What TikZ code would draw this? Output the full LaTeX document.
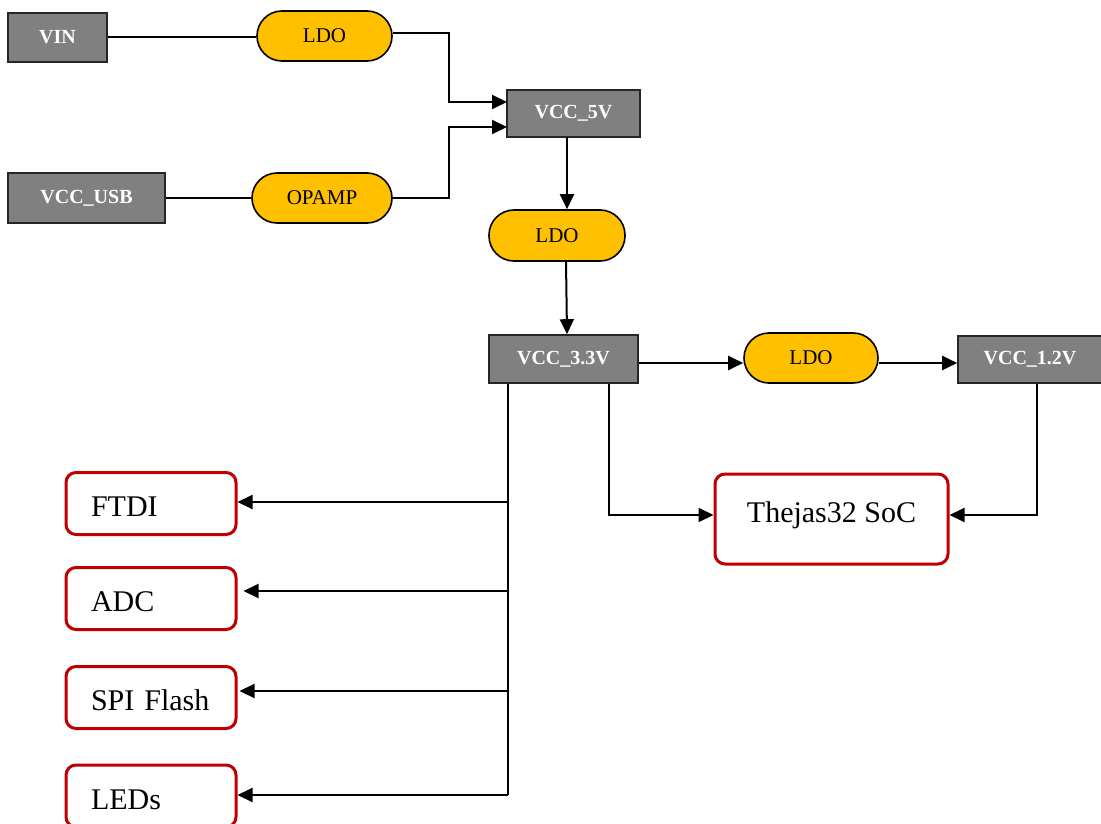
\documentclass[tikz,border=0pt]{standalone}
\usepackage{fontspec}
\setmainfont{Liberation Serif}
\usetikzlibrary{arrows.meta}
\definecolor{boxgray}{HTML}{808080}
\definecolor{boxedge}{HTML}{262626}
\definecolor{pillyellow}{HTML}{FFC000}
\definecolor{socred}{HTML}{C00000}
\tikzset{
  railbox/.style={draw=boxedge, line width=1.6pt, fill=boxgray, text=white,
    font=\fontsize{20}{24}\selectfont\bfseries, inner sep=0pt},
  regpill/.style={draw=black, line width=1.6pt, fill=pillyellow,
    rounded corners=25pt, font=\fontsize{21}{25}\selectfont, inner sep=0pt},
  periph/.style={draw=socred, line width=3pt, rounded corners=10pt, fill=white,
    font=\fontsize{30}{36}\selectfont, inner sep=0pt},
  wire/.style={line width=2pt, draw=black},
  arr/.style={wire, -{Triangle[length=15pt,width=14pt]}},
}
\begin{document}
\begin{tikzpicture}[x=1pt,y=-1pt]
\useasboundingbox (0,0) rectangle (1101,824);
\begin{scope}
\clip (0,0) rectangle (1101,824);
% rail boxes
\node[railbox, minimum width=99pt, minimum height=49pt] (vin) at (57.5,37.5) {VIN};
\node[railbox, minimum width=157pt, minimum height=50pt] (vusb) at (86.5,198) {VCC\_USB};
\node[railbox, minimum width=133pt, minimum height=47pt] (v5) at (573.5,113.5) {VCC\_5V};
\node[railbox, minimum width=149pt, minimum height=48pt] (v33) at (563.5,359) {VCC\_3.3V};
\node[railbox, minimum width=144pt, minimum height=47pt] (v12) at (1030,359.5) {VCC\_1.2V};
% regulators
\node[regpill, minimum width=135pt, minimum height=50pt] (ldoa) at (324.5,36) {LDO};
\node[regpill, minimum width=140pt, minimum height=50pt] (opamp) at (322,198) {OPAMP};
\node[regpill, minimum width=136pt, minimum height=51pt] (ldob) at (557,235.5) {LDO};
\node[regpill, minimum width=134pt, minimum height=50pt] (ldoc) at (811,358) {LDO};
% SoC
\node[periph, minimum width=233pt, minimum height=90pt, text height=16pt, text depth=10pt] (soc) at (831.5,519) {Thejas32 SoC};
% peripherals
\tikzset{leftbox/.style={periph, minimum width=170pt, minimum height=62pt,
  text width=120pt, align=left, inner xsep=25pt, text height=34pt, text depth=8pt}}
\node[leftbox] (ftdi) at (151,503.5) {FTDI};
\node[leftbox] (adc) at (151,598.5) {ADC};
\node[leftbox] (spi) at (151,697.5) {SPI Flash};
\node[leftbox] (leds) at (151,796) {LEDs};
% connectors top
\draw[wire] (vin.east) -- (ldoa.west |- vin.east);
\draw[wire] (vusb.east) -- (opamp.west);
\coordinate (in5a) at (507,102);
\coordinate (in5b) at (507,127);
\draw[arr] (ldoa.east |- 0,33) -- (449,33) -- (449,102) -- (in5a);
\draw[arr] (opamp.east) -- (449,198) -- (449,127) -- (in5b);
\draw[arr] (567,137) -- (ldob.north -| 567,0);
\draw[arr] (566,261) -- (v33.north -| 567,0);
\draw[arr] (v33.east |- 0,363) -- (ldoc.west |- 0,363);
\draw[arr] (ldoc.east |- 0,363) -- (v12.west |- 0,363);
% SoC feeds
\coordinate (socin) at (soc.west |- 0,515);
\coordinate (socin2) at (soc.east |- 0,515);
\draw[arr] (v33.south -| 609,0) -- (609,515) -- (socin);
\draw[arr] (v12.south -| 1037,0) -- (1037,515) -- (socin2);
% trunk to peripherals
\coordinate (trunktop) at (v33.south -| 508,0);
\coordinate (t1) at (508,502);
\coordinate (t2) at (508,591);
\coordinate (t3) at (508,691);
\coordinate (t4) at (508,795);
\draw[wire] (trunktop) -- (t4);
\draw[arr] (t1) -- (t1 -| ftdi.east);
\draw[arr] (t2) -- ([xshift=6pt]t2 -| adc.east);
\draw[arr] (t3) -- ([xshift=2pt]t3 -| spi.east);
\draw[arr] (t4) -- (t4 -| leds.east);
\end{scope}
\end{tikzpicture}
\end{document}
